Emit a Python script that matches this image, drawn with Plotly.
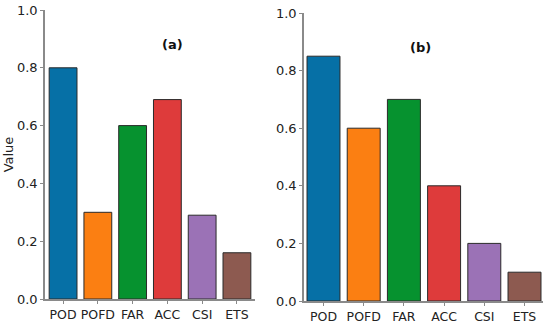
import plotly.graph_objects as go

categories = ["POD", "POFD", "FAR", "ACC", "CSI", "ETS"]
values_a = [0.80, 0.30, 0.60, 0.69, 0.29, 0.16]
values_b = [0.85, 0.60, 0.70, 0.40, 0.20, 0.10]
colors = ["#0670a6", "#fb7f12", "#06922f", "#de3b3b", "#9b72b6", "#8d5a50"]
y_ticks = [0.0, 0.2, 0.4, 0.6, 0.8, 1.0]

W, H = 550, 323


def px_x(x):
    return x / W


def px_y(y):
    return 1 - y / H


fig = go.Figure()
fig.add_trace(go.Bar(x=categories, y=values_a, marker=dict(color=colors, line=dict(color="#2a2a2a", width=1)),
                     width=0.8, xaxis="x", yaxis="y", showlegend=False))
fig.add_trace(go.Bar(x=categories, y=values_b, marker=dict(color=colors, line=dict(color="#2a2a2a", width=1)),
                     width=0.82, xaxis="x2", yaxis="y2", showlegend=False))

yfont = dict(family="DejaVu Sans, Arial", size=13, color="#222")
xfont = dict(family="DejaVu Sans, Arial", size=12.5, color="#222")
axcommon = dict(showgrid=False, zeroline=False, showline=True, linecolor="#8a8a8a", linewidth=1.5,
                ticks="outside", ticklen=3, tickcolor="#8a8a8a", fixedrange=True,
                automargin=False, ticklabeloverflow="allow")

fig.update_layout(
    width=W, height=H, margin=dict(l=0, r=0, t=0, b=0), autosize=False,
    paper_bgcolor="white", plot_bgcolor="white",
    xaxis=dict(domain=[px_x(45), px_x(255)], range=[-0.52, 5.52], anchor="y", tickfont=xfont, **axcommon),
    yaxis=dict(domain=[px_y(299), px_y(10)], range=[0, 1.0], tickvals=y_ticks, tickformat=".1f", anchor="x",
               tickfont=yfont, title=dict(text="Value", font=yfont, standoff=0), **axcommon),
    xaxis2=dict(domain=[px_x(304), px_x(543)], range=[-0.485, 5.46], anchor="y2", tickfont=xfont, **axcommon),
    yaxis2=dict(domain=[px_y(301), px_y(13)], range=[0, 1.0], tickvals=y_ticks, tickformat=".1f", anchor="x2",
                tickfont=yfont, **axcommon),
    annotations=[
        dict(text="<b>(a)</b>", x=px_x(160), y=px_y(35), xref="paper", yref="paper", showarrow=False,
             font=dict(family="DejaVu Sans, Arial", size=13, color="#111")),
        dict(text="<b>(b)</b>", x=px_x(433), y=px_y(38), xref="paper", yref="paper", showarrow=False,
             font=dict(family="DejaVu Sans, Arial", size=13, color="#111")),
    ],
)

fig.write_html("out.html", config={"displayModeBar": False},
               post_script="document.body.style.margin='0';document.body.style.overflow='hidden';")
